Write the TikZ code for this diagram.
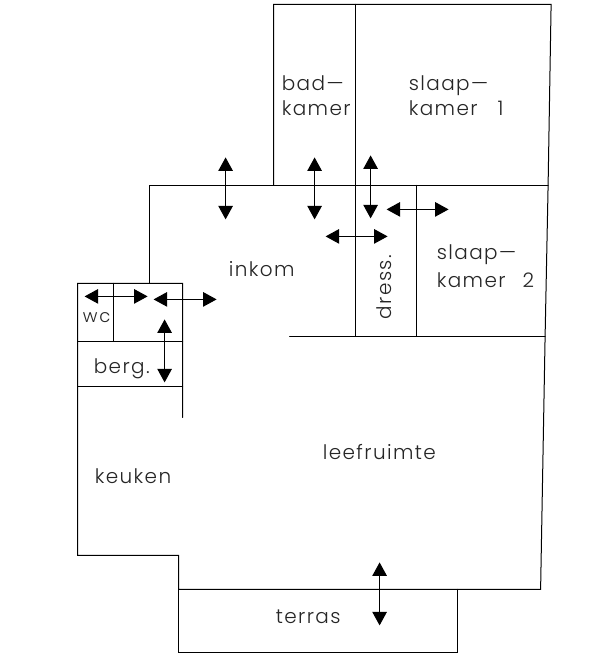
\documentclass[tikz,border=0pt]{standalone}
\usepackage{fontspec}
\setmainfont{Poppins}[UprightFont=* Light,LetterSpace=7]
\usetikzlibrary{arrows.meta}
\tikzset{
  wall/.style={line width=1pt,black,line cap=round,line join=miter},
  door/.style={line width=1pt,black,{Triangle[length=13.5pt,width=14.5pt]}-{Triangle[length=13.5pt,width=14.5pt]}},
  lab/.style={anchor=base west,inner sep=0pt,font=\fontsize{20}{20}\selectfont,text=black!85},
  labsmall/.style={anchor=base west,inner sep=0pt,font=\fontsize{18}{18}\selectfont,text=black!85}
}
\begin{document}
\begin{tikzpicture}[x=1pt,y=-1pt]
\useasboundingbox (0.4,-0.4) rectangle (604.4,655.6);
\fill[white] (0.4,-0.4) rectangle (604.4,655.6);
% outer walls
\draw[wall] (274,185) -- (274,4) -- (551.5,4) -- (548.5,185) -- (545.5,336) -- (541,589) -- (179,589) -- (179,555) -- (78,555) -- (78,283) -- (183,283) -- (183,417);
\draw[wall] (150,283) -- (150,185) -- (548.5,185);
\draw[wall] (356,4) -- (356,336);
\draw[wall] (417,185) -- (417,336);
\draw[wall] (290,336) -- (545.5,336);
\draw[wall] (78,341) -- (183,341);
\draw[wall] (78,386) -- (183,386);
\draw[wall] (114,283) -- (114,341);
\draw[wall] (179,589) -- (179,652) -- (458,652) -- (458,589);
% doors
\coordinate (d1a) at (226,157); \coordinate (d1b) at (226,219);
\coordinate (d2a) at (315,157); \coordinate (d2b) at (315,219);
\coordinate (d3a) at (371,155); \coordinate (d3b) at (371,218);
\coordinate (d4a) at (387,209); \coordinate (d4b) at (449,209);
\coordinate (d5a) at (326,236); \coordinate (d5b) at (388,236);
\coordinate (d6a) at (85,296);  \coordinate (d6b) at (148,296);
\coordinate (d7a) at (154,299); \coordinate (d7b) at (217,299);
\coordinate (d8a) at (165,319); \coordinate (d8b) at (165,382);
\coordinate (d9a) at (380,562); \coordinate (d9b) at (380,625);
\foreach \n in {1,...,9} \draw[door] (d\n a) -- (d\n b);
% labels
\node[lab] (bad) at (282,90) {bad---};
\node[lab] (badk) at (282,115) {kamer};
\node[lab] (sl1) at (409,90) {slaap---};
\node[lab] (sl1k) at (409,115) {kamer\hspace{20pt}1};
\node[lab] (ink) at (229,276) {inkom};
\node[lab] (sl2) at (437,259) {slaap---};
\node[lab] (sl2k) at (437,287) {kamer\hspace{17pt}2};
\node[lab,rotate=90] (dr) at (392,319) {dress.};
\node[labsmall] (wc) at (83,322) {w\hspace{2pt}c};
\node[lab] (bg) at (94,373) {berg.};
\node[lab] (keu) at (95,483) {keuken};
\node[lab] (lee) at (323,459) {leefruimte};
\node[lab] (ter) at (276,623) {terras};
\end{tikzpicture}
\end{document}
